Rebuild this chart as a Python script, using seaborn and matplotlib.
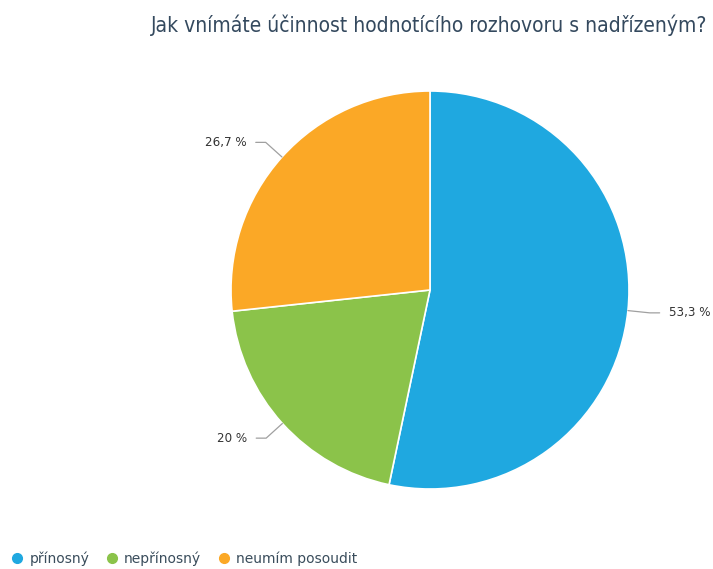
import numpy as np
import matplotlib
matplotlib.use("Agg")
import matplotlib.pyplot as plt
from matplotlib.lines import Line2D
import seaborn as sns

# Survey answers and their shares (%)
categories = ["přínosný", "nepřínosný", "neumím posoudit"]
shares = [53.3, 20.0, 26.7]
share_labels = ["53,3 %", "20 %", "26,7 %"]
title = "Jak vnímáte účinnost hodnotícího rozhovoru s nadřízeným?"

sns.set_theme(style="white")
plt.rcParams["font.family"] = ["DejaVu Sans"]
palette = sns.color_palette(["#1fa8e0", "#8bc34a", "#fba826"])

W, H = 713, 569
fig = plt.figure(figsize=(W / 100, H / 100), dpi=100)

# pie axes: centre (430, 290) px, radius 199 px
cx, cy, r = 430, 290, 199
ax = fig.add_axes([(cx - r) / W, 1 - (cy + r) / H, 2 * r / W, 2 * r / H])
wedges, _ = ax.pie(
    shares, colors=palette, startangle=90, counterclock=False, radius=1.0,
    wedgeprops=dict(edgecolor="white", linewidth=1.2),
)
ax.set_xlim(-1, 1)
ax.set_ylim(-1, 1)
ax.set_aspect("equal")
ax.axis("off")

# leader lines and value labels
for w, lab in zip(wedges, share_labels):
    mid = np.deg2rad((w.theta1 + w.theta2) / 2)
    c, s = np.cos(mid), np.sin(mid)
    side = 1 if c >= 0 else -1
    x1, y1 = c * 1.0, s * 1.0
    x2, y2 = c * 1.11, s * 1.11
    x3 = x2 + side * 0.05
    ax.plot([x1, x2, x3], [y1, y2, y2], color="#a0a0a0", lw=0.9,
            clip_on=False, solid_capstyle="round")
    ax.text(x3 + side * 0.045, y2, lab, ha="left" if side > 0 else "right",
            va="center", fontsize=8.6, color="#333333", clip_on=False)

fig.text(429 / W, 1 - 25 / H, title, ha="center", va="center",
         fontsize=15, color="#34495e", fontstretch="condensed")

handles = [Line2D([], [], marker="o", linestyle="none", markersize=7,
                  markerfacecolor=col, markeredgecolor=col) for col in palette]
fig.legend(handles, categories, loc="center left", bbox_to_anchor=(6 / W, 1 - 559 / H),
           ncol=3, frameon=False, fontsize=10, handletextpad=0.3,
           columnspacing=1.0, labelcolor="#3a4d5c", handlelength=1.2,
           borderaxespad=0.0, borderpad=0.2)

fig.savefig("out.png", dpi=100)
